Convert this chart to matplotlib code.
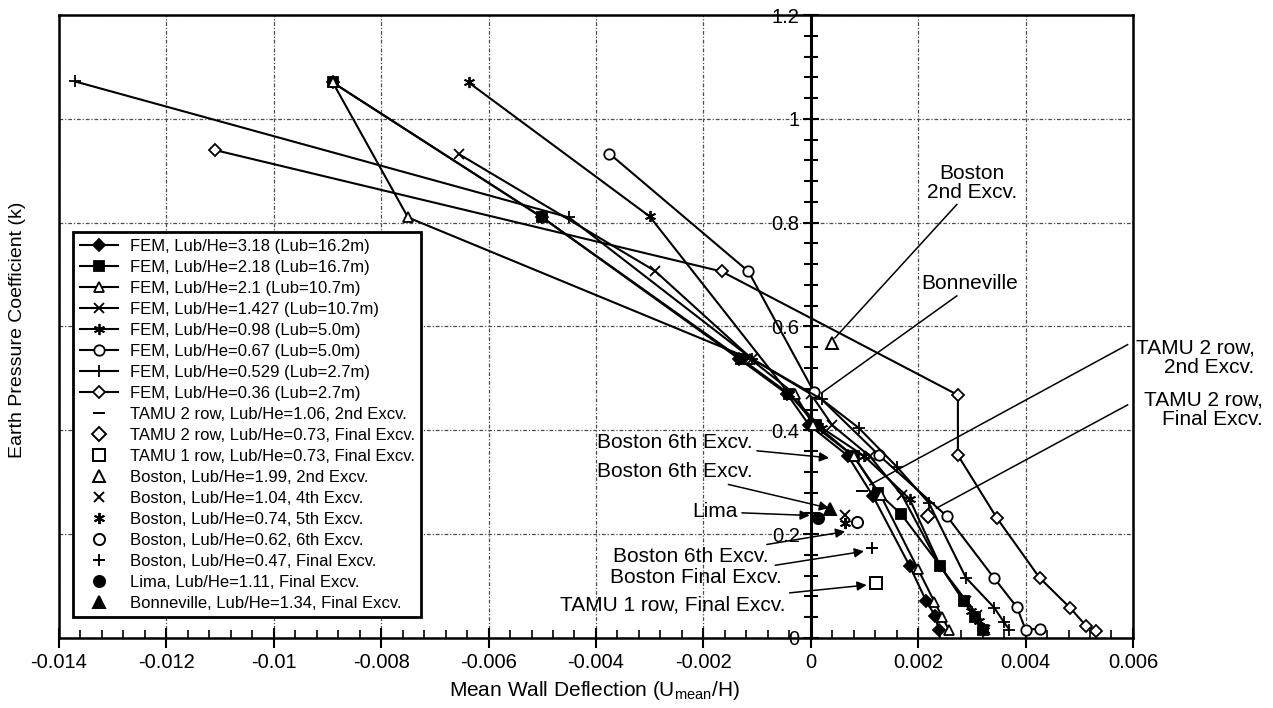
import matplotlib
matplotlib.use("Agg")
import matplotlib.pyplot as plt
from matplotlib.ticker import MultipleLocator

plt.rcParams["font.family"] = ["Liberation Sans", "DejaVu Sans"]
plt.rcParams["mathtext.fontset"] = "custom"
plt.rcParams["mathtext.rm"] = "Liberation Sans"

# FEM curves, k vs Umean/H
fem318_x = [-0.0089, -0.0050, -0.00134, -0.00044, -0.00003, 0.00069, 0.00116, 0.00184, 0.00215, 0.00232, 0.00238]
fem318_y = [1.07, 0.81, 0.538, 0.470, 0.410, 0.351, 0.273, 0.139, 0.071, 0.042, 0.016]
fem218_x = [-0.0089, -0.0050, -0.0013, -0.0004, 0.0001, 0.0008, 0.00125, 0.00168, 0.00241, 0.00285, 0.00305, 0.0032]
fem218_y = [1.07, 0.81, 0.538, 0.470, 0.410, 0.350, 0.280, 0.239, 0.139, 0.071, 0.040, 0.016]
fem21_x = [-0.0089, -0.0075, -0.00113, -0.0003, 0.00005, 0.0008, 0.0013, 0.0020, 0.0023, 0.00245, 0.00257]
fem21_y = [1.07, 0.81, 0.538, 0.470, 0.410, 0.350, 0.275, 0.132, 0.070, 0.040, 0.016]
fem1427_x = [-0.00655, -0.0029, -0.0011, 0.0, 0.0004, 0.0011, 0.0017, 0.0024, 0.0029, 0.0031, 0.00325]
fem1427_y = [0.932, 0.707, 0.538, 0.470, 0.410, 0.350, 0.275, 0.139, 0.071, 0.045, 0.016]
fem098_x = [-0.00637, -0.0030, -0.0004, 0.0002, 0.0010, 0.00184, 0.00241, 0.00285, 0.00298, 0.00314, 0.00323]
fem098_y = [1.07, 0.812, 0.470, 0.405, 0.350, 0.268, 0.139, 0.071, 0.052, 0.032, 0.016]
fem067_x = [-0.00375, -0.00116, 0.00006, 0.00127, 0.00254, 0.00341, 0.00384, 0.0040, 0.00426]
fem067_y = [0.933, 0.706, 0.474, 0.352, 0.234, 0.116, 0.059, 0.016, 0.018]
fem0529_x = [-0.0137, -0.0045, -0.0011, 0.0002, 0.00089, 0.0016, 0.0022, 0.00289, 0.00342, 0.0036, 0.0037]
fem0529_y = [1.072, 0.81, 0.538, 0.460, 0.405, 0.330, 0.260, 0.116, 0.058, 0.030, 0.016]
fem036_x = [-0.0111, -0.00166, 0.00274, 0.00274, 0.00346, 0.00426, 0.00483, 0.00513, 0.00531]
fem036_y = [0.940, 0.706, 0.468, 0.352, 0.232, 0.116, 0.058, 0.023, 0.014]

fem_labels = ["FEM, Lub/He=3.18 (Lub=16.2m)", "FEM, Lub/He=2.18 (Lub=16.7m)",
              "FEM, Lub/He=2.1 (Lub=10.7m)", "FEM, Lub/He=1.427 (Lub=10.7m)",
              "FEM, Lub/He=0.98 (Lub=5.0m)", "FEM, Lub/He=0.67 (Lub=5.0m)",
              "FEM, Lub/He=0.529 (Lub=2.7m)", "FEM, Lub/He=0.36 (Lub=2.7m)"]

# field measurements, one point each
field_labels = ["TAMU 2 row, Lub/He=1.06, 2nd Excv.", "TAMU 2 row, Lub/He=0.73, Final Excv.",
                "TAMU 1 row, Lub/He=0.73, Final Excv.", "Boston, Lub/He=1.99, 2nd Excv.",
                "Boston, Lub/He=1.04, 4th Excv.", "Boston, Lub/He=0.74, 5th Excv.",
                "Boston, Lub/He=0.62, 6th Excv.", "Boston, Lub/He=0.47, Final Excv.",
                "Lima, Lub/He=1.11, Final Excv.", "Bonneville, Lub/He=1.34, Final Excv."]
field_x = [0.00096, 0.00219, 0.00121, 0.0004, 0.00063, 0.00063, 0.00086, 0.00114, 0.00013, 0.00036]
field_y = [0.284, 0.235, 0.106, 0.568, 0.236, 0.222, 0.223, 0.173, 0.231, 0.248]

fig = plt.figure(figsize=(12.73, 7.08), dpi=100)
ax = fig.add_axes([0.0463, 0.0989, 0.8437, 0.8799])
ax.set_xlim(-0.014, 0.006)
ax.set_ylim(0, 1.2)

fem_data = [(fem318_x, fem318_y, "D", "k", 6.5), (fem218_x, fem218_y, "s", "k", 6.5),
            (fem21_x, fem21_y, "^", "white", 7), (fem1427_x, fem1427_y, "x", "k", 7),
            (fem098_x, fem098_y, (6, 2, 0), "k", 8), (fem067_x, fem067_y, "o", "white", 7.5),
            (fem0529_x, fem0529_y, "+", "k", 9), (fem036_x, fem036_y, "D", "white", 6)]
for (xs, ys, mk, fc, ms), lab in zip(fem_data, fem_labels):
    ax.plot(xs, ys, color="k", lw=1.5, marker=mk, ms=ms, mfc=fc, mec="k", mew=1.3,
            label=lab, zorder=3, clip_on=False)

field_markers = ["_", "D", "s", "^", "x", (6, 2, 0), "o", "+", "o", "^"]
field_fc = ["k", "white", "white", "white", "k", "k", "white", "k", "k", "k"]
field_ms = [8, 7, 8, 8, 7, 8, 8, 9, 8, 8]
for i, lab in enumerate(field_labels):
    ax.plot(field_x[i], field_y[i], ls="none", marker=field_markers[i], ms=field_ms[i],
            mfc=field_fc[i], mec="k", mew=1.4, label=lab, zorder=4)

# axes styling: box frame + y axis through x=0
ax.spines["left"].set_position(("data", 0))
for s in ax.spines.values():
    s.set_linewidth(1.8)
ax.spines["left"].set_linewidth(2.2)
ax.plot([0, 0], [0, 1], transform=ax.transAxes, color="k", lw=1.8, clip_on=False)

xticks = [-0.014, -0.012, -0.010, -0.008, -0.006, -0.004, -0.002, 0.0, 0.002, 0.004, 0.006]
xlabels = ["-0.014", "-0.012", "-0.01", "-0.008", "-0.006", "-0.004", "-0.002", "0", "0.002", "0.004", "0.006"]
yticks = [0, 0.2, 0.4, 0.6, 0.8, 1.0, 1.2]
ylabels = ["0", "0.2", "0.4", "0.6", "0.8", "1", "1.2"]
ax.set_xticks(xticks, labels=xlabels)
ax.set_yticks(yticks, labels=ylabels)
ax.xaxis.set_minor_locator(MultipleLocator(0.0004))
ax.yaxis.set_minor_locator(MultipleLocator(0.04))
ax.tick_params(axis="x", which="major", direction="inout", length=14, width=1.5,
               labelsize=14.5, pad=4)
ax.tick_params(axis="x", which="minor", direction="in", length=6, width=1.2)
ax.tick_params(axis="y", which="major", direction="inout", length=12, width=1.5,
               labelsize=14.5, pad=2)
ax.tick_params(axis="y", which="minor", direction="inout", length=10, width=1.5)
ax.grid(True, which="major", ls=(0, (3, 1.5, 1, 1.5)), color="0.3", lw=0.9, zorder=0)
ax.set_axisbelow(True)

# callouts with arrow heads (left of the axis)
arrow_kw = dict(arrowstyle="-|>", color="k", lw=1.1, shrinkA=1, shrinkB=0, mutation_scale=14)
callouts = [
    ("Boston 6th Excv.", (-0.00108, 0.376), (0.00034, 0.347)),
    ("Boston 6th Excv.", (-0.00108, 0.320), (0.00034, 0.250)),
    ("Lima", (-0.00136, 0.243), (-0.00002, 0.236)),
    ("Boston 6th Excv.", (-0.00078, 0.156), (0.00064, 0.205)),
    ("Boston Final Excv.", (-0.00054, 0.116), (0.00099, 0.167)),
    ("TAMU 1 row, Final Excv.", (-0.00047, 0.064), (0.00104, 0.102)),
]
for txt, xyt, xy in callouts:
    ax.annotate(txt, xy=xy, xytext=xyt, ha="right", va="center", fontsize=15,
                arrowprops=arrow_kw, zorder=5)

# plain leader lines (right side)
ax.text(0.0030, 0.877, "Boston\n2nd Excv.", ha="center", va="center", fontsize=15,
        multialignment="center", linespacing=1.0)
ax.plot([0.00272, 0.00045], [0.835, 0.578], color="k", lw=1.1)
ax.text(0.00295, 0.683, "Bonneville", ha="center", va="center", fontsize=15)
ax.plot([0.00272, 0.0002], [0.659, 0.472], color="k", lw=1.1)
ax.text(0.00605, 0.54, "TAMU 2 row,\n2nd Excv.", ha="left", va="center", fontsize=15,
        multialignment="right", linespacing=1.0, clip_on=False)
ax.plot([0.0059, 0.0011], [0.565, 0.295], color="k", lw=1.1, clip_on=False)
ax.text(0.0062, 0.44, "TAMU 2 row,\nFinal Excv.", ha="left", va="center", fontsize=15,
        multialignment="right", linespacing=1.0, clip_on=False)
ax.plot([0.0059, 0.00234], [0.449, 0.25], color="k", lw=1.1, clip_on=False)

leg = ax.legend(loc="upper left", bbox_to_anchor=(0.0573, 0.6723), bbox_transform=fig.transFigure,
                fontsize=12, frameon=True, fancybox=False, framealpha=1, edgecolor="k",
                borderaxespad=0, labelspacing=0.36, handlelength=2.3, handletextpad=0.7,
                borderpad=0.4)
leg.get_frame().set_linewidth(2)
leg.set_zorder(6)

fig.text(0.467, 0.025, r"Mean Wall Deflection (U$_{\mathrm{mean}}$/H)", ha="center", va="center",
         fontsize=15)
fig.text(0.014, 0.534, "Earth Pressure Coefficient (k)", rotation=90, ha="center", va="center",
         fontsize=14)

fig.savefig("out.png", dpi=100)
